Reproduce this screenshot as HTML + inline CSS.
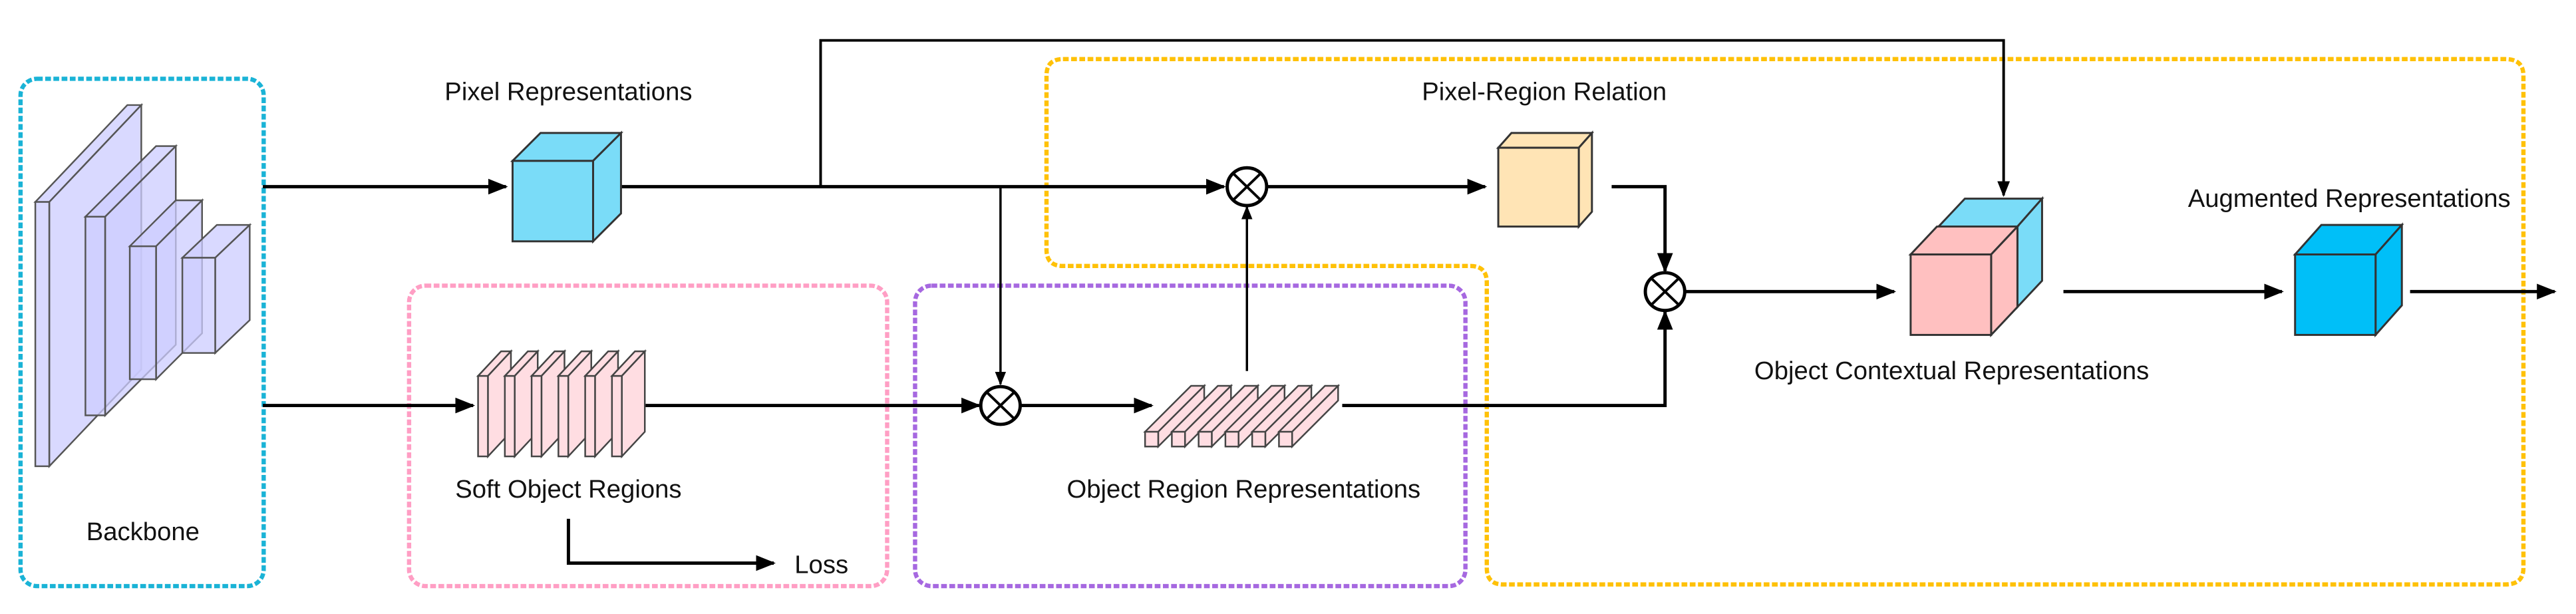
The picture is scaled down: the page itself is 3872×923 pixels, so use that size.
<!DOCTYPE html>
<html><head><meta charset="utf-8"><style>
html,body{margin:0;padding:0;background:#fff;}
svg{display:block;}
text{font-family:"Liberation Sans",sans-serif;font-size:15.5px;fill:#111;text-anchor:middle;}
</style></head><body>
<svg width="3872" height="923" viewBox="0 0 1568 374" preserveAspectRatio="none" xmlns="http://www.w3.org/2000/svg">
<defs>
<marker id="s" viewBox="0 0 10 10" refX="9" refY="5" markerWidth="6" markerHeight="6" orient="auto" markerUnits="strokeWidth"><path d="M0,1 L10,5 L0,9 z" fill="#000"/></marker>
</defs>
<g fill="none" stroke-width="2.6" stroke-dasharray="3.5,1.5">
<rect x="12.5" y="48" width="148" height="309" rx="10" stroke="#1ab3d6"/>
<rect x="249" y="174" width="291" height="183" rx="10" stroke="#ff9ec4"/>
<rect x="557" y="174" width="335" height="183" rx="10" stroke="#a668e0"/>
<path d="M647,36 H1525 Q1536,36 1536,46 V346 Q1536,356 1525,356 H915 Q905,356 905,346 V172 Q905,162 895,162 H647 Q637,162 637,152 V46 Q637,36 647,36 Z" stroke="#ffc107"/>
</g>
<g fill="#ccccff" fill-opacity="0.75" stroke="#555" stroke-width="1">
<polygon points="21.5,123 77.5,64 86,64 30,123"/><polygon points="30,123 86,64 86,225 30,284"/><rect x="21.5" y="123" width="8.5" height="161"/>
<polygon points="52,132 95,89 107,89 64,132"/><polygon points="64,132 107,89 107,210 64,253"/><rect x="52" y="132" width="12" height="121"/>
<polygon points="79,150 107,122 123,122 95,150"/><polygon points="95,150 123,122 123,203 95,231"/><rect x="79" y="150" width="16" height="81"/>
<polygon points="111,157 132,137 152,137 131,157"/><polygon points="131,157 152,137 152,195 131,215"/><rect x="111" y="157" width="20" height="58"/>
</g>
<g stroke="#000" stroke-width="2" fill="none">
<line x1="160" y1="113.7" x2="308" y2="113.7" marker-end="url(#s)"/>
<line x1="378" y1="113.7" x2="745" y2="113.7" marker-end="url(#s)"/>
<polyline points="499.5,113.7 499.5,24.6 1219.6,24.6 1219.6,119" stroke-width="1.6" marker-end="url(#s)"/>
<line x1="609" y1="113.7" x2="609" y2="234" stroke-width="1.4" marker-end="url(#s)"/>
<line x1="160" y1="247" x2="288" y2="247" marker-end="url(#s)"/>
<line x1="392" y1="247" x2="596" y2="247" marker-end="url(#s)"/>
<line x1="621" y1="247" x2="701" y2="247" marker-end="url(#s)"/>
<line x1="759" y1="226" x2="759" y2="126" stroke-width="1.4" marker-end="url(#s)"/>
<line x1="771" y1="113.7" x2="904" y2="113.7" marker-end="url(#s)"/>
<polyline points="981,113.7 1013.5,113.7 1013.5,165" marker-end="url(#s)"/>
<polyline points="817,247 1013.5,247 1013.5,190" marker-end="url(#s)"/>
<line x1="1026" y1="177.6" x2="1153" y2="177.6" marker-end="url(#s)"/>
<line x1="1256" y1="177.6" x2="1389" y2="177.6" marker-end="url(#s)"/>
<line x1="1467" y1="177.6" x2="1555" y2="177.6" marker-end="url(#s)"/>
<polyline points="346,316 346,343 471,343" marker-end="url(#s)"/>
</g>
<g fill="#fff" stroke="#000" stroke-width="2">
<ellipse cx="759" cy="113.7" rx="12" ry="11.5"/>
<ellipse cx="609" cy="247" rx="12" ry="11.5"/>
<ellipse cx="1013.5" cy="177.6" rx="12" ry="11.5"/>
</g>
<g stroke="#000" stroke-width="1.6">
<path d="M750.5,105.5 L767.5,122 M767.5,105.5 L750.5,122"/>
<path d="M600.5,238.8 L617.5,255.2 M617.5,238.8 L600.5,255.2"/>
<path d="M1005,169.4 L1022,185.8 M1022,169.4 L1005,185.8"/>
</g>
<g stroke="#333" stroke-width="1.2">
<polygon points="312,98 329,81 378,81 361,98" fill="#7adcf8"/><polygon points="361,98 378,81 378,130 361,147" fill="#7adcf8"/><rect x="312" y="98" width="49" height="49" fill="#7adcf8"/>
<polygon points="912,90 920,81 969,81 961,90" fill="#ffe4b5"/><polygon points="961,90 969,81 969,129 961,138" fill="#ffe4b5"/><rect x="912" y="90" width="49" height="48" fill="#ffe4b5"/>
<polygon points="1180,138 1196,121 1243,121 1228,138" fill="#7adcf8"/><polygon points="1228,138 1243,121 1243,171 1228,187" fill="#7adcf8"/>
<polygon points="1163,155 1179,138 1228,138 1212,155" fill="#ffc0c0"/><polygon points="1212,155 1228,138 1228,187 1212,204" fill="#ffc0c0"/><rect x="1163" y="155" width="49" height="49" fill="#ffc0c0"/>
<polygon points="1397,155 1413,137 1462,137 1446,155" fill="#00bff8"/><polygon points="1446,155 1462,137 1462,186 1446,204" fill="#00bff8"/><rect x="1397" y="155" width="49" height="49" fill="#00bff8"/>
</g>
<g fill="#ffdde2" stroke="#444" stroke-width="1">
<g id="sl"><polygon points="291,229 305,214 311,214 297,229"/><polygon points="297,229 311,214 311,263 297,278"/><rect x="291" y="229" width="6" height="49"/></g>
<use href="#sl" x="16.3"/><use href="#sl" x="32.6"/><use href="#sl" x="48.9"/><use href="#sl" x="65.2"/><use href="#sl" x="81.5"/>
</g>
<g fill="#ffdde2" stroke="#444" stroke-width="1">
<g id="st"><polygon points="697,263 725,235 733,235 705,263"/><polygon points="705,263 733,235 733,244 705,272"/><rect x="697" y="263" width="8" height="9"/></g>
<use href="#st" x="16.3"/><use href="#st" x="32.6"/><use href="#st" x="48.9"/><use href="#st" x="65.2"/><use href="#st" x="81.5"/>
</g>
<text x="346" y="61">Pixel Representations</text>
<text x="940" y="61">Pixel-Region Relation</text>
<text x="1430" y="126">Augmented Representations</text>
<text x="1188" y="231">Object Contextual Representations</text>
<text x="346" y="303">Soft Object Regions</text>
<text x="757" y="303">Object Region Representations</text>
<text x="87" y="329">Backbone</text>
<text x="500" y="349">Loss</text>
</svg>
</body></html>
